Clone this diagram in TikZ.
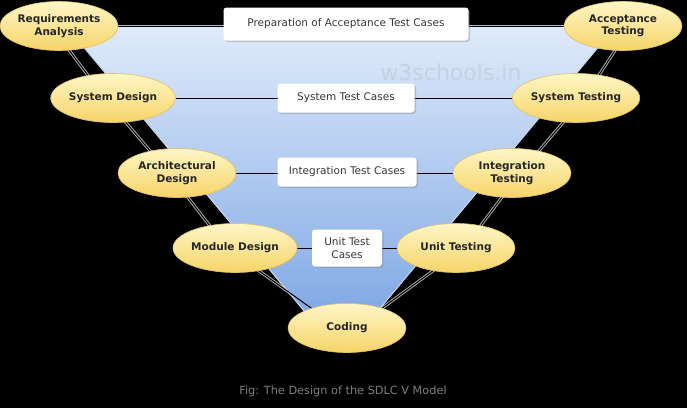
\documentclass[tikz,border=0pt]{standalone}
\usepackage{fontspec}
\setmainfont{DejaVu Sans}
\usetikzlibrary{shapes.geometric,shadows}

\definecolor{phasetop}{RGB}{255,246,198}
\definecolor{phasebot}{RGB}{246,212,104}
\definecolor{phaseline}{RGB}{224,192,104}
\definecolor{vtop}{RGB}{224,235,250}
\definecolor{vbot}{RGB}{124,165,228}
\definecolor{vedge}{RGB}{200,216,238}
\definecolor{halocol}{RGB}{170,170,170}
\definecolor{boxtext}{RGB}{55,55,55}
\definecolor{wmarkcol}{RGB}{198,210,228}
\definecolor{captioncol}{RGB}{125,125,125}

\pgfdeclarelayer{bg}
\pgfdeclarelayer{vshape}
\pgfdeclarelayer{links}
\pgfsetlayers{bg,vshape,links,main}

\tikzset{
  phase/.style={ellipse, draw=phaseline, line width=0.6pt, top color=phasetop, bottom color=phasebot,
    minimum width=118pt, minimum height=49pt, inner sep=0pt, align=center,
    font=\fontsize{10.5}{12.5}\selectfont\bfseries, text=black!85},
  testcase/.style={fill=white, rounded corners=3pt, minimum height=29pt, inner sep=2pt, align=center,
    drop shadow={shadow xshift=1.5pt, shadow yshift=-1.5pt, opacity=0.35},
    font=\fontsize{10.5}{13}\selectfont, text=boxtext},
  link/.style={line width=1pt, black},
  linkhalo/.style={line width=3pt, halocol}
}

\begin{document}
\begin{tikzpicture}[x=1pt, y=-1pt]
  \useasboundingbox (0,0) rectangle (687,408);

  \node[phase] (ReqA) at (59,26) {Requirements\\Analysis};
  \node[phase] (SysD) at (113,98) {System Design};
  \node[phase] (ArchD) at (177,173) {Architectural\\Design};
  \node[phase] (ModD) at (235,248) {Module Design};
  \node[phase] (Code) at (347,328) {Coding};
  \node[phase] (UnitT) at (456,248) {Unit Testing};
  \node[phase] (IntT) at (512,173) {Integration\\Testing};
  \node[phase] (SysT) at (576,98) {System Testing};
  \node[phase] (AccT) at (623,26) {Acceptance\\Testing};

  \node[testcase, minimum width=245pt, minimum height=33pt] (AccTC) at (346,24) {Preparation of Acceptance Test Cases};
  \node[testcase, minimum width=137pt] (SysTC) at (346,98) {System Test Cases};
  \node[testcase, minimum width=139pt] (IntTC) at (347,172) {Integration Test Cases};
  \node[testcase, minimum width=70pt, minimum height=37pt] (UnitTC) at (347,248) {Unit Test\\Cases};

  \node[font=\fontsize{22}{22}\selectfont, text=wmarkcol] (wmark) at (451,72) {w3schools.in};
  \node[font=\fontsize{11.3}{13}\selectfont, text=captioncol] (caption) at (343,391) {Fig: The Design of the SDLC V Model};

  \begin{pgfonlayer}{bg}
    \fill[black] (0,0) rectangle (687,408);
    \draw[linkhalo] (ReqA) -- (AccT);
    \draw[linkhalo] ([xshift=-8pt]ReqA.center) -- ([xshift=-8pt]SysD.center) -- ([xshift=-8pt]ArchD.center) -- ([xshift=-8pt]ModD.center) -- ([xshift=-8pt]Code.center);
    \draw[linkhalo] ([xshift=8pt]AccT.center) -- ([xshift=8pt]SysT.center) -- ([xshift=8pt]IntT.center) -- ([xshift=8pt]UnitT.center) -- ([xshift=8pt]Code.center);
  \end{pgfonlayer}

  \begin{pgfonlayer}{vshape}
    \shade[top color=vtop, bottom color=vbot, draw=vedge, line width=1pt]
      (66,26) -- (616,26) -- (362,330) -- (320,330) -- cycle;
  \end{pgfonlayer}

  \begin{pgfonlayer}{links}
    \draw[link] (ReqA) -- (AccT);
    \draw[link] (SysD) -- (SysT);
    \draw[link] (ArchD) -- (IntT);
    \draw[link] (ModD) -- (UnitT);
    \draw[link] ([xshift=-8pt]ReqA.center) -- ([xshift=-8pt]SysD.center) -- ([xshift=-8pt]ArchD.center) -- ([xshift=-8pt]ModD.center) -- ([xshift=-8pt]Code.center);
    \draw[link] ([xshift=8pt]AccT.center) -- ([xshift=8pt]SysT.center) -- ([xshift=8pt]IntT.center) -- ([xshift=8pt]UnitT.center) -- ([xshift=8pt]Code.center);
  \end{pgfonlayer}
\end{tikzpicture}
\end{document}
